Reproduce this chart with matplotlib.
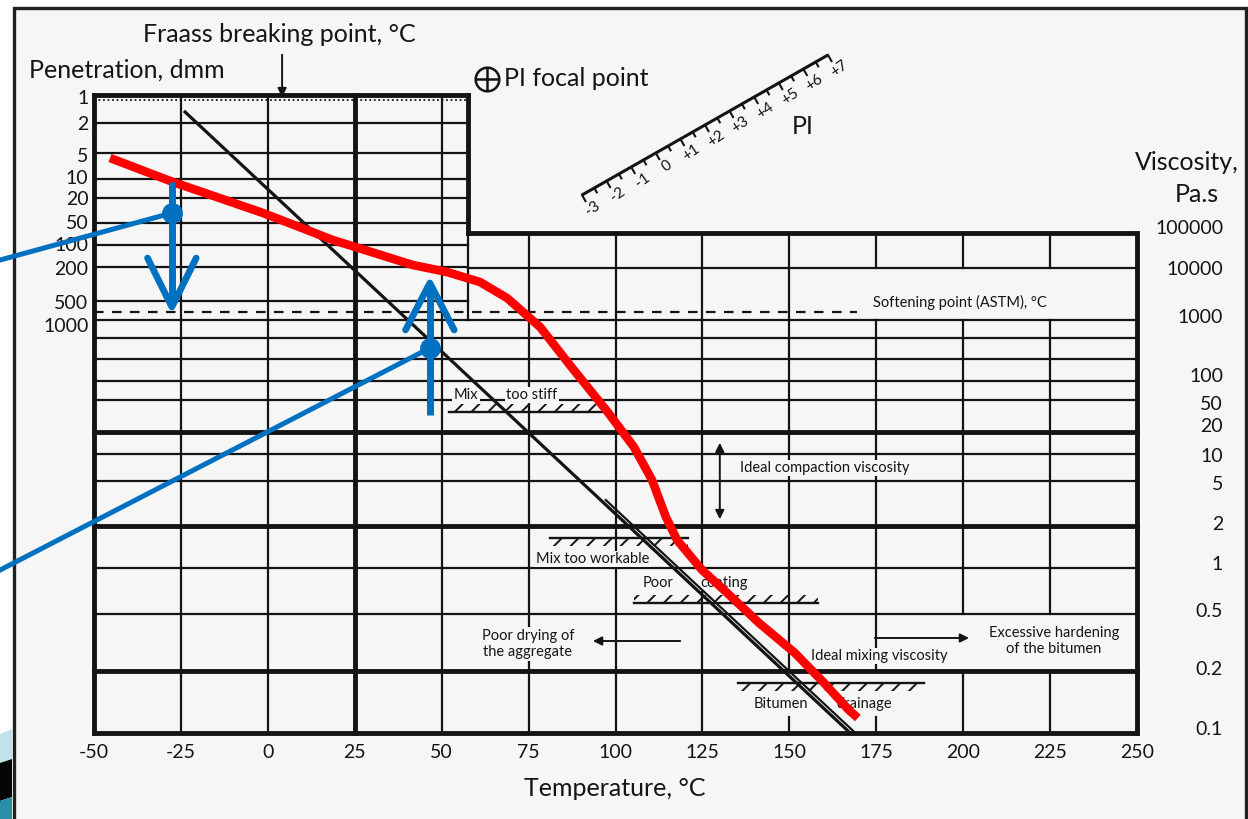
import numpy as np
import matplotlib.pyplot as plt
from matplotlib.patches import Rectangle, Polygon

plt.rcParams['font.family'] = ['Lato', 'DejaVu Sans']
plt.rcParams['hatch.linewidth'] = 1.4

INK = '#141414'
PAPER = '#f6f6f6'
BLUE = '#0070c0'
RED = '#ff0000'
THIN, THICK = 1.6, 3.5

# temperature axis, degC
temps = [-50, -25, 0, 25, 50, 75, 100, 125, 150, 175, 200, 225, 250]
temp_labels = [str(t) for t in temps]

# chart height units: 0 = 0.1 Pa.s line, 638 = top of penetration box
pen_labels = ['1', '2', '5', '10', '20', '50', '100', '200', '500', '1000']
pen_label_pos = [636, 610, 578, 556, 535, 511, 489, 465, 431, 408]
pen_lines = [610, 580, 554, 535, 510, 488, 466, 432]
pen_dotted = 633
softening_line = 421

visc_labels = ['100000', '10000', '1000', '100', '50', '20', '10', '5',
               '2', '1', '0.5', '0.2', '0.1']
visc_label_pos = [506, 465, 417, 358, 330, 308, 278, 250, 210, 170, 123, 65, 5]
full_thin = [413, 395, 374, 352, 333, 279, 252, 165, 119]
full_thick = [301, 207, 62, 0]

# grid pieces: (temp, from, to, thick)
vsegs = [(-50, 0, 638, True), (250, 0, 500, True), (25, 0, 638, True),
         (57.5, 500, 638, True), (57.5, 413, 500, False),
         (-25, 0, 638, False), (0, 0, 638, False), (50, 0, 638, False),
         (75, 0, 500, False), (100, 0, 500, False), (125, 0, 500, False),
         (150, 62, 500, False), (150, 0, 16, False),
         (175, 62, 413, False), (175, 465, 500, False), (175, 0, 16, False),
         (200, 119, 413, False), (200, 465, 500, False), (200, 0, 62, False),
         (225, 119, 413, False), (225, 465, 500, False), (225, 0, 62, False)]

# reference bitumen line
diag_t = [-23.8, 167.5]
diag_y = [621, 0]
diag2_t = [97.2, 169.0]
diag2_y = [233, 0]

# red bitumen curve
red_t = [-45.4, -27.3, -1.4, 18.7, 41.7, 51.5, 61.0, 68.8, 78.3, 88.0, 97.3,
         105.3, 110.5, 114.5, 117.7, 124.9, 131.2, 141.3, 151.6, 160.0, 167.1, 169.7]
red_y = [575, 551, 520, 493, 468, 461, 451, 435, 406, 363, 323,
         286, 253, 216, 193, 163, 143, 110, 80, 50, 23, 15]

# blue pointers
blue1_line_t, blue1_line_y = [-77.0, -27.6], [473, 520]
blue1_shaft_y = [551, 430]
blue1_head_t, blue1_head_y = [-34.6, -27.6, -20.6], [475, 426, 475]
blue2_line_t, blue2_line_y = [-77.0, 46.6], [163, 385]
blue2_shaft_y = [318, 446]
blue2_head_t, blue2_head_y = [39.6, 46.6, 53.6], [403, 450, 403]

# zone markers: (t0, t1, y, hatch above line)
grounds = [(52.1, 96.4, 321, True), (81.1, 120.8, 195, False),
           (105.3, 158.2, 130, True), (135.2, 188.7, 50, False)]

notes = [(53.5, 338, 'Mix', 'left'), (68.5, 338, 'too stiff', 'left'),
         (135.8, 265, 'Ideal compaction viscosity', 'left'),
         (77.1, 174, 'Mix too workable', 'left'),
         (107.9, 150, 'Poor', 'left'), (124.5, 150, 'coating', 'left'),
         (74.8, 89, 'Poor drying of\nthe aggregate', 'center'),
         (156.2, 77, 'Ideal mixing viscosity', 'left'),
         (226.1, 92, 'Excessive hardening\nof the bitumen', 'center'),
         (139.8, 29, 'Bitumen', 'left'), (163.4, 29, 'drainage', 'left'),
         (174.0, 431, 'Softening point (ASTM), °C', 'left')]

pi_labels = ['-3', '-2', '-1', '0', '+1', '+2', '+3', '+4', '+5', '+6', '+7']

fig = plt.figure(figsize=(12.48, 8.19), dpi=100)

# slide background, frame and PI ruler (pixel space)
bg = fig.add_axes([0, 0, 1, 1])
bg.set_xlim(0, 1248)
bg.set_ylim(819, 0)
bg.axis('off')
bg.add_patch(Rectangle((13.5, 8), 1232.5, 830, fc=PAPER, ec='#202020', lw=2.4))
bg.add_patch(Polygon([(0, 734), (12, 729), (12, 759), (0, 763)], fc='#c2e1ea', ec='none'))
bg.add_patch(Polygon([(0, 763), (12, 759), (12, 797), (0, 801)], fc='#050505', ec='none'))
bg.add_patch(Polygon([(0, 801), (12, 797), (12, 819), (0, 819)], fc='#2a8ea8', ec='none'))

p0, p1 = np.array([582.0, 195.0]), np.array([828.0, 55.0])
u = (p1 - p0) / 10.0
ud = u / np.linalg.norm(u)
nrm = np.array([-ud[1], ud[0]])
if nrm[1] < 0:
    nrm = -nrm
bg.plot([p0[0], p1[0]], [p0[1], p1[1]], color=INK, lw=2.2, solid_capstyle='butt')
for k in range(21):
    p = p0 + u * (k / 2.0)
    ln = 7 if k % 2 == 0 else 5
    q = p + nrm * ln
    bg.plot([p[0], q[0]], [p[1], q[1]], color=INK, lw=1.5)
for k, lab in enumerate(pi_labels):
    p = p0 + u * k + nrm * 17 + ud * 3
    bg.text(p[0], p[1], lab, fontsize=11, color=INK, rotation=35,
            ha='center', va='center')
bg.text(803, 127, 'PI', fontsize=18, color=INK, ha='center', va='center')

# chart axes, temperature vs chart height
ax = fig.add_axes([94 / 1248, 86 / 819, 1043 / 1248, 638 / 819])
ax.set_xlim(-50, 250)
ax.set_ylim(0, 638)
ax.patch.set_visible(False)
for s in ax.spines.values():
    s.set_visible(False)
ax.set_xticks(temps, temp_labels)
ax.set_yticks(pen_label_pos, pen_labels)
ax.tick_params(axis='x', length=0, pad=8, labelsize=14, labelcolor=INK)
ax.tick_params(axis='y', length=0, pad=4, labelsize=14, labelcolor=INK)

ax2 = ax.twinx()
ax2.set_ylim(0, 638)
for s in ax2.spines.values():
    s.set_visible(False)
ax2.set_yticks(visc_label_pos, visc_labels)
ax2.tick_params(axis='y', length=0, pad=62, labelsize=14, labelcolor=INK)
for t in ax2.get_yticklabels():
    t.set_ha('right')

# grid
for t, y0, y1, thick in vsegs:
    ax.plot([t, t], [y0, y1], color=INK, lw=THICK if thick else THIN,
            solid_capstyle='projecting', zorder=2, clip_on=False)
ax.plot([-50, 57.5], [638, 638], color=INK, lw=THICK, solid_capstyle='projecting', zorder=2, clip_on=False)
ax.plot([57.5, 250], [500, 500], color=INK, lw=THICK, solid_capstyle='projecting', zorder=2)
ax.plot([57.5, 250], [465, 465], color=INK, lw=THIN, zorder=2)
for y in pen_lines:
    ax.plot([-50, 57.5], [y, y], color=INK, lw=THIN, zorder=2)
for y in full_thin:
    ax.plot([-50, 250], [y, y], color=INK, lw=THIN, zorder=2)
for y in full_thick:
    ax.plot([-50, 250], [y, y], color=INK, lw=THICK, solid_capstyle='projecting',
            zorder=2, clip_on=False)
ax.plot([-50, 57.5], [pen_dotted, pen_dotted], color=INK, lw=1.3, ls=(0, (1, 1.5)), zorder=2)
ax.plot([-50, 169.4], [softening_line, softening_line], color=INK, lw=1.6,
        ls=(0, (4.3, 3.8)), zorder=2)

# zone markers
for t0, t1, y, above in grounds:
    ax.plot([t0, t1], [y, y], color=INK, lw=1.7, zorder=4)
    ax.add_patch(Rectangle((t0, y if above else y - 8), t1 - t0, 8, fill=False,
                           hatch='//', lw=0, ec=INK, zorder=4))

for t, y, s, ha in notes:
    ax.text(t, y, s, fontsize=10.5, color=INK, ha=ha, va='center', zorder=3,
            linespacing=1.25,
            bbox=dict(boxstyle='square,pad=0.1', fc=PAPER, ec='none'))

arrow_kw = dict(arrowstyle='-|>', color=INK, lw=1.4, mutation_scale=13)
ax.annotate('', xy=(4.1, 633), xytext=(4.1, 681), arrowprops=arrow_kw,
            annotation_clip=False, zorder=5)
ax.annotate('', xy=(130.0, 211), xytext=(130.0, 293),
            arrowprops=dict(arrow_kw, arrowstyle='<|-|>'), zorder=5)
ax.annotate('', xy=(92.7, 92), xytext=(119.4, 92), arrowprops=arrow_kw, zorder=5)
ax.annotate('', xy=(202.5, 95), xytext=(173.8, 95), arrowprops=arrow_kw, zorder=5)

ax.plot(diag_t, diag_y, color=INK, lw=2.3, zorder=5)
ax.plot(diag2_t, diag2_y, color=INK, lw=1.6, zorder=5)

ax.plot(red_t, red_y, color=RED, lw=6.2, solid_capstyle='butt', solid_joinstyle='round', zorder=6)

# blue pointers
ax.plot(blue1_line_t, blue1_line_y, color=BLUE, lw=3.6, zorder=7, clip_on=False)
ax.plot([-27.6], [520], 'o', color=BLUE, ms=14, zorder=7)
ax.plot([-27.6, -27.6], blue1_shaft_y, color=BLUE, lw=5, solid_capstyle='butt', zorder=7)
ax.plot(blue1_head_t, blue1_head_y, color=BLUE, lw=4.8, solid_capstyle='round', zorder=7)
ax.plot(blue2_line_t, blue2_line_y, color=BLUE, lw=3.6, zorder=7, clip_on=False)
ax.plot([46.6], [385], 'o', color=BLUE, ms=14, zorder=7)
ax.plot([46.6, 46.6], blue2_shaft_y, color=BLUE, lw=5, solid_capstyle='butt', zorder=7)
ax.plot(blue2_head_t, blue2_head_y, color=BLUE, lw=4.8, solid_capstyle='round', zorder=7)

# headings
big = dict(fontsize=18, color=INK, va='center', clip_on=False)
ax.text(3.2, 699, 'Fraass breaking point, °C', ha='center', **big)
ax.text(-40.6, 663, 'Penetration, dmm', ha='center', **big)
ax.plot([63.0], [654], 'o', ms=17, mfc='none', mec=INK, mew=1.8, clip_on=False)
ax.plot([63.0], [654], '+', ms=17, mec=INK, mew=1.8, clip_on=False)
ax.text(67.8, 654, 'PI focal point', ha='left', **big)
ax.text(264.4, 571, 'Viscosity,', ha='center', **big)
ax.text(267.2, 539, 'Pa.s', ha='center', **big)
ax.text(99.8, -55, 'Temperature, °C', ha='center', **big)

fig.savefig('out.png', dpi=100)
